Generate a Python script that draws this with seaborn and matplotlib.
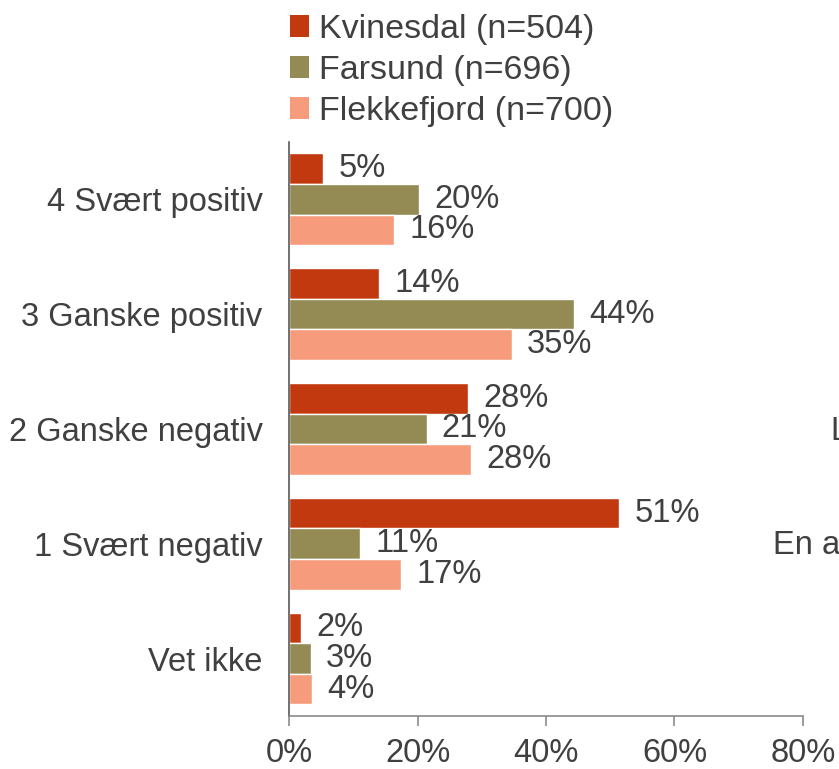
import pandas as pd
import seaborn as sns
import matplotlib.pyplot as plt
from matplotlib.patches import Patch

# Survey answers, share of respondents (%)
categories = ["4 Svært positiv", "3 Ganske positiv", "2 Ganske negativ", "1 Svært negativ", "Vet ikke"]
groups = ["Kvinesdal (n=504)", "Farsund (n=696)", "Flekkefjord (n=700)"]
kvinesdal = [5.3, 14.0, 27.9, 51.4, 1.9]
farsund = [20.2, 44.4, 21.4, 11.1, 3.4]
flekkefjord = [16.3, 34.7, 28.4, 17.4, 3.6]
colors = ["#C3390F", "#948B54", "#F69C7D"]
xticks = [0, 20, 40, 60, 80]

df = pd.DataFrame({
    "Svar": categories * 3,
    "Kommune": [groups[0]] * 5 + [groups[1]] * 5 + [groups[2]] * 5,
    "Andel": kvinesdal + farsund + flekkefjord,
})

sns.set_style("white")
plt.rcParams["font.family"] = ["Liberation Sans", "DejaVu Sans"]
text_color = "#404040"
fs = 23.5

fig = plt.figure(figsize=(8.39, 7.69), dpi=100)
ax = fig.add_axes([0.3445, 0.069, 0.6125, 0.7465])

sns.barplot(data=df, x="Andel", y="Svar", hue="Kommune", palette=colors,
            orient="h", width=0.8, ax=ax, legend=False, saturation=1)

for c in ax.containers:
    ax.bar_label(c, labels=[f"{round(v)}%" for v in c.datavalues],
                 padding=11, fontsize=fs, color=text_color)

ax.set_xlim(0, 80)
ax.set_ylim(4.5, -0.5)
ax.set_xticks(xticks)
ax.set_xticklabels([f"{t}%" for t in xticks], fontsize=fs, color=text_color)
ax.set_yticks(range(len(categories)))
ax.set_yticklabels(categories, fontsize=fs, color=text_color)
ax.set_yticks([i - 0.5 for i in range(len(categories) + 1)], minor=True)
ax.tick_params(axis="y", which="major", length=0, pad=19)
ax.tick_params(axis="y", which="minor", length=7, width=1.2, color="#8a8a8a", direction="out")
ax.tick_params(axis="x", length=7, width=1.2, color="#8a8a8a", direction="out", pad=9, bottom=True)
ax.set_xlabel("")
ax.set_ylabel("")

for s in ["top", "right"]:
    ax.spines[s].set_visible(False)
ax.spines["left"].set_color("#595959")
ax.spines["bottom"].set_color("#8a8a8a")
ax.spines["left"].set_linewidth(1.2)
ax.spines["bottom"].set_linewidth(1.2)

handles = [Patch(facecolor=c, edgecolor="none") for c in colors]
fig.legend(handles, groups, loc="upper left", bbox_to_anchor=(0.309, 1.022),
           frameon=False, fontsize=24.5, labelcolor=text_color,
           handlelength=0.55, handleheight=0.6, handletextpad=0.3, labelspacing=0.3)

# cut-off text from a neighbouring chart
fig.text(830 / 839, 1 - 432 / 769, "L", fontsize=fs, color=text_color, va="center")
fig.text(773 / 839, 1 - 546 / 769, "En a", fontsize=fs, color=text_color, va="center")

fig.savefig("out.png", dpi=100)
